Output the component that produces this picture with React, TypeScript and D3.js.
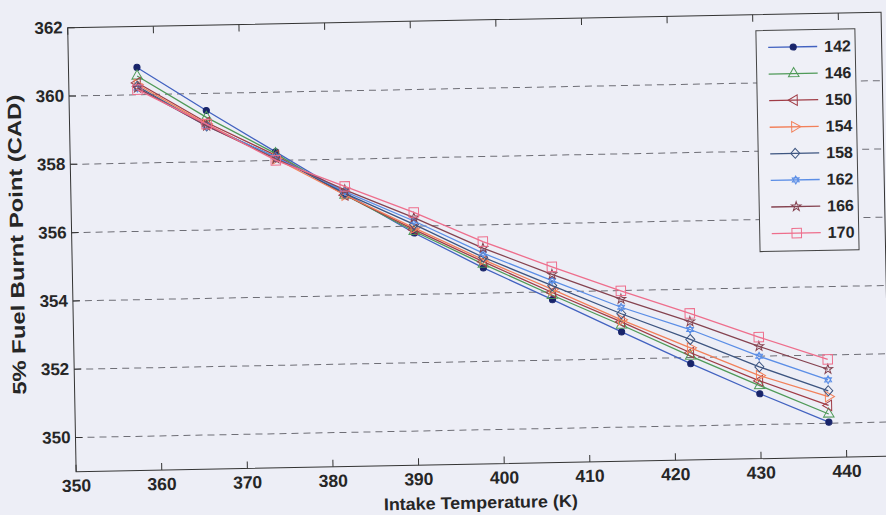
import * as d3 from "d3";

// intake temperature (K) at each measured point
const temps = [358, 366, 374, 382, 390, 398, 406, 414, 422, 430, 438];

// 5% fuel burnt point (CAD), one array per case
const s142 = [360.8, 359.5, 358.25, 357.0, 355.8, 354.74, 353.77, 352.79, 351.82, 350.9, 350.03];
const s146 = [360.55, 359.3, 358.2, 356.95, 355.85, 354.85, 353.9, 352.99, 352.04, 351.14, 350.27];
const s150 = [360.35, 359.15, 358.15, 356.95, 355.9, 354.92, 353.98, 353.08, 352.14, 351.28, 350.52];
const s154 = [360.3, 359.1, 358.05, 356.95, 355.95, 354.98, 354.07, 353.14, 352.28, 351.43, 350.78];
const s158 = [360.25, 359.05, 358.1, 357.0, 356.05, 355.05, 354.18, 353.32, 352.53, 351.69, 350.95];
const s162 = [360.2, 359.05, 358.1, 357.05, 356.15, 355.17, 354.33, 353.51, 352.82, 352.0, 351.27];
const s166 = [360.2, 359.05, 358.05, 357.1, 356.25, 355.32, 354.51, 353.75, 353.05, 352.29, 351.58];
const s170 = [360.15, 359.1, 358.0, 357.2, 356.4, 355.51, 354.73, 353.99, 353.29, 352.56, 351.87];

const seriesNames = ["142", "146", "150", "154", "158", "162", "166", "170"];
const seriesValues = [s142, s146, s150, s154, s158, s162, s166, s170];

const xTicks = [350, 360, 370, 380, 390, 400, 410, 420, 430, 440];
const yTicks = [350, 352, 354, 356, 358, 360, 362];

const W = 886;
const H = 515;
const margin = { left: 72, right: 885.5, top: 20, bottom: 464 };

const colors = ["#4262c0", "#4f9a58", "#a03c46", "#f2805a", "#3d5580", "#5b8ee6", "#854350", "#ee6e8c"];
const bg = "#edeef6";
const ink = "#262626";

function hexagram(r: number) {
  const a = r * 0.866;
  return `M0,${-r}L${a},${r / 2}L${-a},${r / 2}Z M0,${r}L${a},${-r / 2}L${-a},${-r / 2}Z`;
}

function marker(i: number, color: string) {
  switch (i) {
    case 0:
      return <path d={d3.symbol(d3.symbolCircle, 30)()!} fill="#18246a" stroke="#18246a" />;
    case 1:
      return <path d={d3.symbol(d3.symbolTriangle, 48)()!} fill="none" stroke={color} />;
    case 2:
      return <path d={d3.symbol(d3.symbolTriangle, 48)()!} transform="rotate(-90)" fill="none" stroke={color} />;
    case 3:
      return <path d={d3.symbol(d3.symbolTriangle, 48)()!} transform="rotate(90)" fill="none" stroke={color} />;
    case 4:
      return <path d="M0,-5L4.5,0L0,5L-4.5,0Z" fill="none" stroke={color} />;
    case 5:
      return <path d={hexagram(4)} fill="none" stroke={color} />;
    case 6:
      return <path d={d3.symbol(d3.symbolStar, 28)()!} fill="none" stroke={color} />;
    default:
      return <path d={d3.symbol(d3.symbolSquare, 90)()!} fill="none" stroke={color} />;
  }
}

export default function App() {
  const x = d3.scaleLinear().domain([350, 445]).range([margin.left, margin.right]);
  const y = d3.scaleLinear().domain([349, 362]).range([margin.bottom, margin.top]);

  const line = d3
    .line<number>()
    .x((_, i) => x(temps[i]))
    .y((d) => y(d));

  const font = "'Liberation Sans', Arial, sans-serif";
  const legX = 760;
  const legY = 36;

  return (
    <div style={{ position: "absolute", left: 0, top: 0 }}>
      <svg width={W} height={H} style={{ display: "block", fontFamily: font }}>
        <rect x={0} y={0} width={W} height={H} fill={bg} />
        {/* the scanned figure is tilted by about one degree */}
        <g transform="rotate(-1.09, 478, 250)">
          {/* grid */}
          {yTicks.slice(0, -1).map((t) => (
            <line
              key={"g" + t}
              x1={margin.left}
              x2={margin.right}
              y1={y(t)}
              y2={y(t)}
              stroke="#6e6e76"
              strokeWidth={1}
              strokeDasharray="7,5"
            />
          ))}

          {/* axes box */}
          <rect
            x={margin.left}
            y={margin.top}
            width={margin.right - margin.left}
            height={margin.bottom - margin.top}
            fill="none"
            stroke="#333"
            strokeWidth={1}
          />
          {xTicks.map((t) => (
            <g key={"xt" + t}>
              <line x1={x(t)} x2={x(t)} y1={margin.bottom} y2={margin.bottom - 7} stroke="#333" />
              <line x1={x(t)} x2={x(t)} y1={margin.top} y2={margin.top + 7} stroke="#333" />
              <text
                x={x(t)}
                y={margin.bottom + 14}
                textAnchor="middle"
                dominantBaseline="central"
                fontSize={17.5}
                fontWeight="bold"
                fill={ink}
              >
                {t}
              </text>
            </g>
          ))}
          {yTicks.map((t) => (
            <g key={"yt" + t}>
              <line x1={margin.left} x2={margin.left + 7} y1={y(t)} y2={y(t)} stroke="#333" />
              <text
                x={margin.left - 5}
                y={y(t)}
                textAnchor="end"
                dominantBaseline="central"
                fontSize={17}
                fontWeight="bold"
                fill={ink}
              >
                {t}
              </text>
            </g>
          ))}

          <text
            x={476}
            y={503}
            textAnchor="middle"
            dominantBaseline="central"
            fontSize={17}
            fontWeight="bold"
            fill={ink}
            textLength={194}
            lengthAdjust="spacingAndGlyphs"
          >
            Intake Temperature (K)
          </text>
          <text
            transform="translate(17,236) rotate(-90)"
            textAnchor="middle"
            dominantBaseline="central"
            fontSize={19}
            fontWeight="bold"
            fill={ink}
            textLength={300}
            lengthAdjust="spacingAndGlyphs"
          >
            5% Fuel Burnt Point (CAD)
          </text>

          {/* series */}
          {seriesValues.map((vals, i) => (
            <g key={"s" + i}>
              <path d={line(vals)!} fill="none" stroke={colors[i]} strokeWidth={1.3} />
              {vals.map((v, j) => (
                <g key={j} transform={`translate(${x(temps[j])},${y(v)})`}>
                  {marker(i, colors[i])}
                </g>
              ))}
            </g>
          ))}

          {/* legend */}
          <rect x={legX} y={legY} width={99} height={221} fill="#eff0f7" stroke="#444" strokeWidth={1} />
          {seriesNames.map((name, i) => {
            const ry = legY + 17 + i * 26.6;
            return (
              <g key={"l" + name}>
                <line x1={legX + 12} x2={legX + 61} y1={ry} y2={ry} stroke={colors[i]} strokeWidth={1.3} />
                <g transform={`translate(${legX + 37},${ry})`}>{marker(i, colors[i])}</g>
                <text
                  x={legX + 68}
                  y={ry}
                  dominantBaseline="central"
                  fontSize={16}
                  fontWeight="bold"
                  fill={ink}
                >
                  {name}
                </text>
              </g>
            );
          })}
        </g>
      </svg>
    </div>
  );
}
